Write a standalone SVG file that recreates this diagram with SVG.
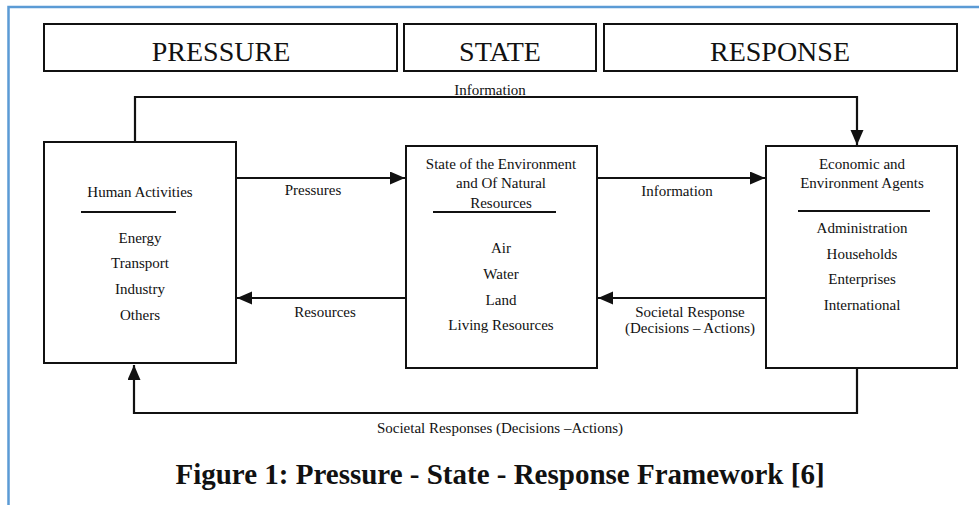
<svg xmlns="http://www.w3.org/2000/svg" width="979" height="505" viewBox="0 0 979 505">
<style>
text{font-family:"Liberation Serif","Times New Roman",serif;fill:#111;text-anchor:middle}
.s{font-size:15px}
.h{font-size:28px}
.cap{font-size:29px;font-weight:bold}
.box{fill:#fff;stroke:#111;stroke-width:2}
.sep{stroke:#111;stroke-width:2}
.con{fill:none;stroke:#111;stroke-width:2.2}
</style>
<defs>
<marker id="arr" markerUnits="userSpaceOnUse" markerWidth="16" markerHeight="14" refX="15" refY="6.5" orient="auto">
<path d="M0,0 L15,6.5 L0,13 Z" fill="#111"/>
</marker>
</defs>
<rect width="979" height="505" fill="#fff"/>
<path d="M8.5,505 V7 H979" fill="none" stroke="#5b9bd5" stroke-width="2.5"/>

<g id="header-pressure"><rect class="box" x="44" y="24" width="353" height="47"/><text class="h" x="221" y="61">PRESSURE</text></g>
<g id="header-state"><rect class="box" x="404" y="24" width="192" height="47"/><text class="h" x="500" y="61">STATE</text></g>
<g id="header-response"><rect class="box" x="604" y="24" width="353" height="47"/><text class="h" x="780" y="61">RESPONSE</text></g>

<g id="connectors">
<path class="con" d="M135,142 V97 H857 V145" marker-end="url(#arr)"/>
<path class="con" d="M236,178 H405" marker-end="url(#arr)"/>
<path class="con" d="M406,298 H237" marker-end="url(#arr)"/>
<path class="con" d="M597,178 H765" marker-end="url(#arr)"/>
<path class="con" d="M766,298 H598" marker-end="url(#arr)"/>
<path class="con" d="M857,368 V413 H134 V365" marker-end="url(#arr)"/>
<text class="s" x="490" y="95">Information</text>
<text class="s" x="313" y="195">Pressures</text>
<text class="s" x="325" y="317">Resources</text>
<text class="s" x="677" y="196">Information</text>
<text class="s" x="690" y="317">Societal Response</text>
<text class="s" x="690" y="333">(Decisions – Actions)</text>
<text class="s" x="500" y="433">Societal Responses (Decisions –Actions)</text>
</g>

<g id="human-activities">
<rect class="box" x="44" y="142" width="192" height="221"/>
<text class="s" x="140" y="197">Human Activities</text>
<line class="sep" x1="81" y1="212" x2="176" y2="212"/>
<text class="s" x="140" y="243">Energy</text>
<text class="s" x="140" y="268">Transport</text>
<text class="s" x="140" y="294">Industry</text>
<text class="s" x="140" y="320">Others</text>
</g>

<g id="state-environment">
<rect class="box" x="406" y="146" width="191" height="222"/>
<text class="s" x="501" y="169">State of the Environment</text>
<text class="s" x="501" y="188">and Of Natural</text>
<text class="s" x="501" y="208">Resources</text>
<line class="sep" x1="433" y1="212" x2="556" y2="212"/>
<text class="s" x="501" y="253">Air</text>
<text class="s" x="501" y="279">Water</text>
<text class="s" x="501" y="305">Land</text>
<text class="s" x="501" y="330">Living Resources</text>
</g>

<g id="agents">
<rect class="box" x="766" y="146" width="191" height="222"/>
<text class="s" x="862" y="169">Economic and</text>
<text class="s" x="862" y="188">Environment Agents</text>
<line class="sep" x1="798" y1="211" x2="930" y2="211"/>
<text class="s" x="862" y="233">Administration</text>
<text class="s" x="862" y="259">Households</text>
<text class="s" x="862" y="284">Enterprises</text>
<text class="s" x="862" y="310">International</text>
</g>

<text class="cap" x="500" y="484">Figure 1: Pressure - State - Response Framework [6]</text>
</svg>
